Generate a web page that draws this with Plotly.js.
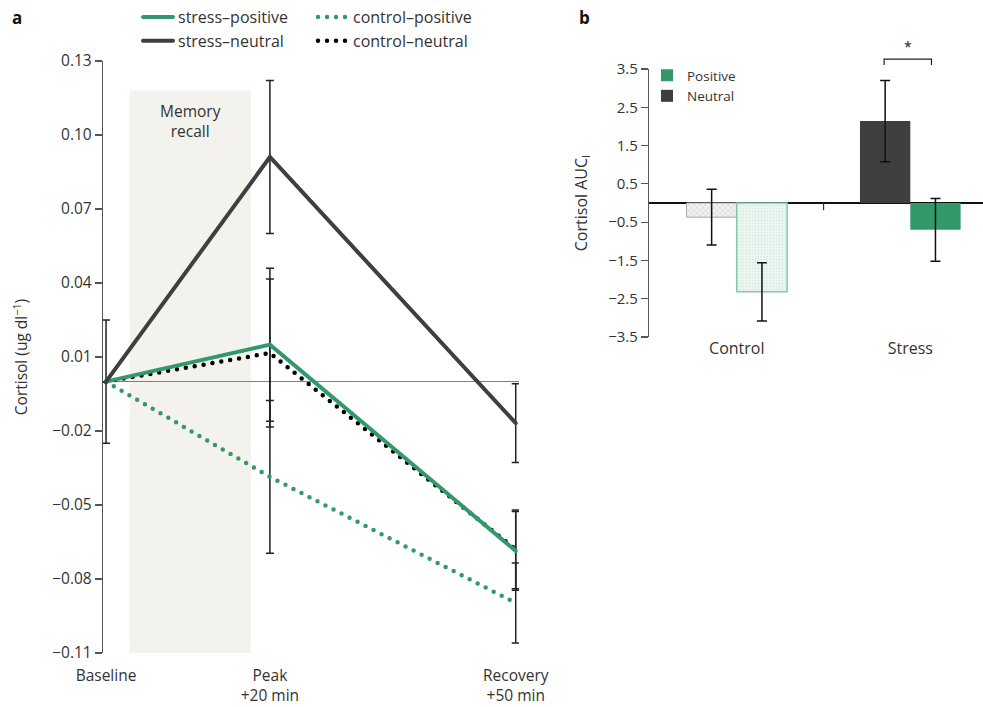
<!DOCTYPE html>
<html>
<head>
<meta charset="utf-8">
<script src="https://cdn.plot.ly/plotly-3.0.1.min.js"></script>
<style>
  html, body { margin: 0; padding: 0; background: #fff; }
  #chart { width: 983px; height: 707px; }
  .main-svg .js-line { stroke-linecap: round; }
  .main-svg .legendlines path { stroke-linecap: round; }
</style>
</head>
<body>
<div id="chart"></div>
<script>
// ---- Panel a: cortisol over time (change from baseline) ----
const timeMinutes = [0, 20, 50];
const timeLabels = ['Baseline', 'Peak<br>+20 min', 'Recovery<br>+50 min'];
const yTickVals = [0.13, 0.10, 0.07, 0.04, 0.01, -0.02, -0.05, -0.08, -0.11];
const yTickText = ['0.13', '0.10', '0.07', '0.04', '0.01', '\u22120.02', '\u22120.05', '\u22120.08', '\u22120.11'];

const stressPositive = [0, 0.015, -0.0686];
const stressPositiveErr = [null, 0.031, 0.016];
const stressNeutral = [0, 0.0911, -0.0168];
const stressNeutralErr = [0.025, 0.031, 0.016];
const controlPositive = [0, -0.0386, -0.0897];
const controlPositiveErr = [null, 0.031, 0.0162];
const controlNeutral = [0, 0.0116, -0.068];
const controlNeutralErr = [null, 0.030, 0.016];

// ---- Panel b: cortisol AUCi ----
const groups = ['Control', 'Stress'];
const neutralAUC = [-0.37, 2.14];
const neutralErr = [0.73, 1.06];
const positiveAUC = [-2.32, -0.70];
const positiveErr = [0.76, 0.82];
const bTickVals = [3.5, 2.5, 1.5, 0.5, -0.5, -1.5, -2.5, -3.5];
const bTickText = ['3.5', '2.5', '1.5', '0.5', '\u22120.5', '\u22121.5', '\u22122.5', '\u22123.5'];

const GREEN = '#33996a';
const DARK = '#3f3f3f';
const FONT = '"Open Sans", Lato, sans-serif';
const TXT = '#333';

function errY(arr, color) {
  return { type: 'data', array: arr, visible: true, color: color, thickness: 1.5, width: 4 };
}

const traces = [
  {
    name: 'control\u2013positive', x: timeMinutes, y: controlPositive, mode: 'lines',
    line: { color: GREEN, width: 4.5, dash: '0px,9px' },
    error_y: errY(controlPositiveErr, '#222'),
    legend: 'legend2', legendgroup: 'cp', cliponaxis: false, xaxis: 'x', yaxis: 'y'
  },
  {
    name: 'control\u2013neutral', x: timeMinutes, y: controlNeutral, mode: 'lines',
    line: { color: '#000', width: 4.5, dash: '0px,9px' },
    error_y: errY(controlNeutralErr, '#222'),
    legend: 'legend2', legendgroup: 'cn', cliponaxis: false, xaxis: 'x', yaxis: 'y'
  },
  {
    name: 'stress\u2013positive', x: timeMinutes, y: stressPositive, mode: 'lines',
    line: { color: GREEN, width: 4 },
    error_y: errY(stressPositiveErr, '#222'),
    legend: 'legend', legendgroup: 'sp', cliponaxis: false, xaxis: 'x', yaxis: 'y'
  },
  {
    name: 'stress\u2013neutral', x: timeMinutes, y: stressNeutral, mode: 'lines',
    line: { color: DARK, width: 4 },
    error_y: errY(stressNeutralErr, '#222'),
    legend: 'legend', legendgroup: 'sn', cliponaxis: false, xaxis: 'x', yaxis: 'y'
  },
  // panel b bars
  {
    type: 'bar', name: 'Neutral', x: [groups[0]], y: [neutralAUC[0]], offsetgroup: 'N',
    marker: { color: '#eeeeee', line: { color: '#a8a8a8', width: 1 },
      pattern: { shape: 'x', fgcolor: '#bdbdbd', bgcolor: '#f2f2f2', size: 4, solidity: 0.35, fillmode: 'overlay' } },
    error_y: { type: 'data', array: [neutralErr[0]], color: '#111', thickness: 1.5, width: 5 },
    showlegend: false, xaxis: 'x2', yaxis: 'y2', legend: 'legend3'
  },
  {
    type: 'bar', name: 'Positive', x: [groups[0]], y: [positiveAUC[0]], offsetgroup: 'P',
    marker: { color: '#eef7f2', line: { color: '#86c7a6', width: 1.5 },
      pattern: { shape: '.', fgcolor: '#b9dfca', bgcolor: '#f0f8f3', size: 3, solidity: 0.4, fillmode: 'overlay' } },
    error_y: { type: 'data', array: [positiveErr[0]], color: '#111', thickness: 1.5, width: 5 },
    showlegend: false, xaxis: 'x2', yaxis: 'y2', legend: 'legend3'
  },
  {
    type: 'bar', name: 'Neutral', x: [groups[1]], y: [neutralAUC[1]], offsetgroup: 'N',
    marker: { color: DARK },
    error_y: { type: 'data', array: [neutralErr[1]], color: '#111', thickness: 1.5, width: 5 },
    xaxis: 'x2', yaxis: 'y2', legend: 'legend3'
  },
  {
    type: 'bar', name: 'Positive', x: [groups[1]], y: [positiveAUC[1]], offsetgroup: 'P',
    marker: { color: GREEN },
    error_y: { type: 'data', array: [positiveErr[1]], color: '#111', thickness: 1.5, width: 5 },
    xaxis: 'x2', yaxis: 'y2', legend: 'legend3'
  }
];

const W = 983, H = 707;
const layout = {
  width: W, height: H,
  margin: { l: 0, r: 0, t: 0, b: 0 },
  paper_bgcolor: '#fff', plot_bgcolor: 'rgba(0,0,0,0)',
  font: { family: FONT, size: 15, color: TXT },
  barmode: 'group', bargap: 0.42, bargroupgap: 0,
  xaxis: {
    domain: [103 / W, 519 / W], range: [-0.37, 50.4],
    tickvals: timeMinutes, ticktext: timeLabels,
    ticks: 'outside', ticklen: 8, tickcolor: 'rgba(0,0,0,0)',
    showline: false, showgrid: false, zeroline: false,
    tickfont: { size: 15.5, color: TXT }, anchor: 'y', automargin: false
  },
  yaxis: {
    domain: [(H - 653) / H, (H - 61) / H], range: [-0.11, 0.13],
    tickvals: yTickVals, ticktext: yTickText,
    ticks: 'outside', ticklen: 7, tickwidth: 1.2, tickcolor: '#555',
    showline: true, linecolor: '#555', linewidth: 1.2,
    showgrid: false, zeroline: true, zerolinecolor: '#808080', zerolinewidth: 1.6,
    tickfont: { size: 15.5, color: TXT }, anchor: 'x', automargin: false,
    title: { text: 'Cortisol (ug dl<sup>\u22121</sup>)', font: { size: 15.5, color: TXT }, standoff: 20 }
  },
  xaxis2: {
    domain: [649 / W, 1], range: [-0.506, 1.419], type: 'category',
    ticks: '', showline: false, showgrid: false, zeroline: false,
    tickfont: { size: 16, color: TXT }, anchor: 'y2', automargin: false
  },
  yaxis2: {
    domain: [(H - 337) / H, (H - 69) / H], range: [-3.5, 3.5],
    tickvals: bTickVals, ticktext: bTickText,
    ticks: 'outside', ticklen: 7, tickwidth: 1.2, tickcolor: '#555',
    showline: true, linecolor: '#555', linewidth: 1.2,
    showgrid: false, zeroline: true, zerolinecolor: '#111', zerolinewidth: 1.3,
    tickfont: { size: 15, color: TXT }, anchor: 'x2', automargin: false,
    title: { text: 'Cortisol AUC<sub>I</sub>', font: { size: 16, color: TXT }, standoff: 16 }
  },
  legend: {
    x: 138 / W, y: (H - 0) / H, xanchor: 'left', yanchor: 'top',
    orientation: 'v', bgcolor: 'rgba(0,0,0,0)', tracegroupgap: 2,
    font: { size: 16, color: TXT }, traceorder: 'normal'
  },
  legend2: {
    x: 313 / W, y: (H - 0) / H, xanchor: 'left', yanchor: 'top',
    orientation: 'v', bgcolor: 'rgba(0,0,0,0)', tracegroupgap: 2,
    font: { size: 16, color: TXT }, traceorder: 'normal'
  },
  legend3: {
    x: 647 / W, y: (H - 60) / H, xanchor: 'left', yanchor: 'top',
    orientation: 'v', bgcolor: 'rgba(0,0,0,0)', tracegroupgap: 0,
    font: { size: 13.5, color: TXT }, traceorder: 'reversed'
  },
  shapes: [
    // memory recall window (minutes 2.9 to 17.7)
    { type: 'rect', xref: 'x', yref: 'y', x0: 2.9, x1: 17.7, y0: -0.11, y1: 0.118,
      fillcolor: '#f4f2ed', line: { width: 0 }, layer: 'below' },
    // category separator tick on the zero line of panel b
    { type: 'line', xref: 'x2', yref: 'y2', x0: 0.5, x1: 0.5, y0: 0, y1: -0.19,
      line: { color: '#333', width: 1.2 } },
    // significance bracket
    { type: 'path', xref: 'x2', yref: 'y2 domain',
      path: 'M 0.849 1.015 L 0.849 1.037 L 1.122 1.037 L 1.122 1.015',
      line: { color: '#222', width: 1.2 } }
  ],
  annotations: [
    { text: '<b>a</b>', xref: 'paper', yref: 'paper', x: 10 / W, y: (H - 17) / H,
      xanchor: 'left', yanchor: 'middle', showarrow: false, font: { size: 17, color: '#111' } },
    { text: '<b>b</b>', xref: 'paper', yref: 'paper', x: 577 / W, y: (H - 17) / H,
      xanchor: 'left', yanchor: 'middle', showarrow: false, font: { size: 17, color: '#111' } },
    { text: 'Memory<br>recall', xref: 'x', yref: 'y', x: 10.3, y: 0.1055,
      xanchor: 'center', yanchor: 'middle', showarrow: false, font: { size: 15.5, color: TXT } },
    { text: '*', xref: 'x2', yref: 'y2 domain', x: 0.985, y: 1.085,
      xanchor: 'center', yanchor: 'middle', showarrow: false, font: { size: 14, color: '#222' } }
  ]
};

Plotly.newPlot('chart', traces, layout, { displayModeBar: false, staticPlot: true });
</script>
</body>
</html>
